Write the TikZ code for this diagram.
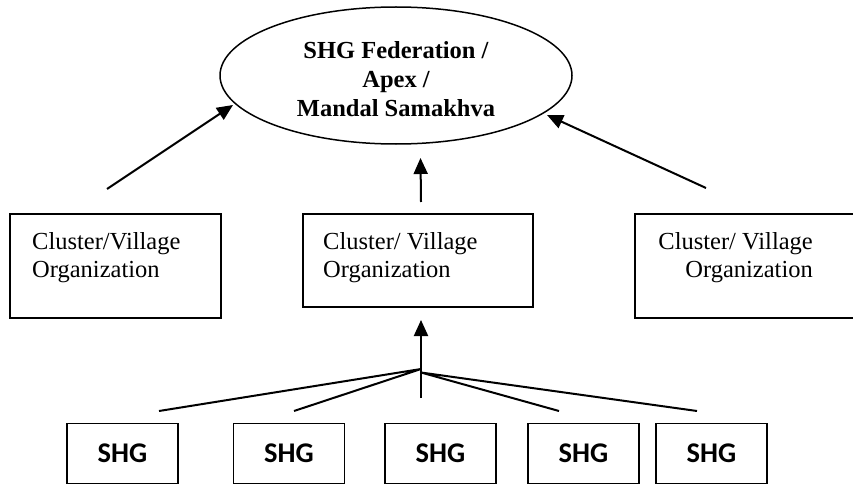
\documentclass[tikz,border=0pt]{standalone}
\usepackage{fontspec}
\setmainfont{Liberation Serif}
\newfontfamily\shgfont{Carlito}
\usetikzlibrary{arrows.meta,shapes.geometric}
\tikzset{
  fedshape/.style={ellipse, draw, line width=1.5pt, minimum width=352pt, minimum height=137pt, inner sep=0pt},
  fedtext/.style={align=center, inner sep=0pt, font=\fontsize{24.5}{29}\selectfont\bfseries},
  cbox/.style={draw, line width=1.7pt, inner sep=0pt},
  ctext/.style={inner sep=0pt, font=\fontsize{24.5}{28.5}\selectfont},
  shgbox/.style={draw, line width=1.7pt, minimum width=111pt, minimum height=60pt, inner sep=0pt, font=\shgfont\bfseries\fontsize{28.5}{30}\selectfont},
  arr/.style={line width=2pt, -{Triangle[length=16pt,width=14pt]}},
  fan/.style={line width=2pt}
}
\begin{document}
\begin{tikzpicture}[x=1pt,y=-1pt]
\useasboundingbox (0,0) rectangle (853,484);
% federation
\node[fedshape] (fed) at (396,75.5) {};
\node[fedtext] (fedlbl) at (396,79) {SHG Federation /\\Apex /\\Mandal Samakhva};
% cluster boxes
\node[cbox, minimum width=211pt, minimum height=104pt] (c1) at (115.5,266) {};
\node[cbox, minimum width=230pt, minimum height=93pt] (c2) at (418,260.5) {};
\node[cbox, minimum width=228pt, minimum height=104pt] (c3) at (749,266) {};
\node[ctext, align=left, anchor=north west] (c1t) at (32,232) {Cluster/Village\\Organization};
\node[ctext, align=left, anchor=north west] (c2t) at (323,232) {Cluster/ Village\\Organization};
\node[ctext, align=right, anchor=north east] (c3t) at (813,232) {Cluster/ Village\\Organization};
% SHG boxes
\node[shgbox] (s1) at (122.5,453.5) {SHG};
\node[shgbox] (s2) at (289,453.5) {SHG};
\node[shgbox] (s3) at (440.5,453.5) {SHG};
\node[shgbox] (s4) at (583.5,453.5) {SHG};
\node[shgbox] (s5) at (711.5,453.5) {SHG};
% connector points
\coordinate (l1s) at (107,189);
\coordinate (l1e) at (233,105);
\coordinate (m1s) at (421,202);
\coordinate (m1e) at (420.5,158);
\coordinate (r1s) at (706,188);
\coordinate (r1e) at (547,115);
\coordinate (m2s) at (421,398);
\coordinate (m2e) at (421,320);
\coordinate (hubl) at (421,369);
\coordinate (hubr) at (421,372.5);
\coordinate (f1) at (159,411);
\coordinate (f2) at (294,411);
\coordinate (f4) at (559,411);
\coordinate (f5) at (697,411);
% arrows
\draw[arr] (l1s) -- (l1e);
\draw[arr] (m1s) -- (m1e);
\draw[arr] (r1s) -- (r1e);
\draw[arr] (m2s) -- (m2e);
\draw[fan] (f1) -- (hubl) -- (f2);
\draw[fan] (f4) -- (hubr) -- (f5);
\end{tikzpicture}
\end{document}
